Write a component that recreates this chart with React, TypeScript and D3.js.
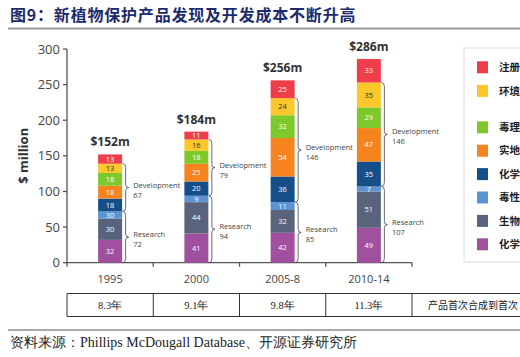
import React from "react";
import * as d3 from "d3";

const categories = ["1995", "2000", "2005-8", "2010-14"];
const seriesNames = ["化学", "生物", "毒性", "化学", "实地", "毒理", "环境", "注册"];
const seriesColors = ["#a0509e", "#59647c", "#5b93d3", "#154f8a", "#f5841f", "#7dc82b", "#fcc72a", "#ef3e4a"];
// values per category, bottom to top
const chemResearch = [32, 41, 42, 49];
const bioResearch = [30, 44, 32, 51];
const toxResearch = [10, 9, 11, 7];
const chemDev = [18, 20, 36, 35];
const fieldDev = [18, 25, 54, 47];
const toxDev = [18, 18, 32, 29];
const envDev = [13, 16, 24, 35];
const registration = [13, 11, 25, 33];
// printed labels (source prints "30" on the small 1995 toxicology segment)
const toxResearchLabels = ["30", "9", "11", "7"];
const totals = ["$152m", "$184m", "$256m", "$286m"];
const researchTotals = [72, 94, 85, 107];
const developmentTotals = [67, 79, 146, 146];
const years = ["8.3年", "9.1年", "9.8年", "11.3年"];
const yTicks = [0, 50, 100, 150, 200, 250, 300];
const legendNames = ["注册", "环境", "毒理", "实地", "化学", "毒性", "生物", "化学"];
const legendColors = ["#ef3e4a", "#fcc72a", "#7dc82b", "#f5841f", "#154f8a", "#5b93d3", "#59647c", "#a0509e"];

const series = [chemResearch, bioResearch, toxResearch, chemDev, fieldDev, toxDev, envDev, registration];

const FONT = "'Open Sans', 'DejaVu Sans', sans-serif";
const CJK = "'Noto Sans CJK SC', sans-serif";

export default function App() {
  const x = d3.scaleBand<string>().domain(categories).range([67, 412]).padding(0);
  const y = d3.scaleLinear().domain([0, 300]).range([262.7, 49]);
  const barW = 24;
  const step = x.step();

  const brace = (bx: number, v0: number, v1: number) => {
    const top = y(v1), bot = y(v0), mid = (top + bot) / 2;
    const xm = bx + 3;
    return `M${bx},${top} Q${xm},${top} ${xm},${top + 4} L${xm},${mid - 3} Q${xm},${mid} ${bx + 6},${mid} Q${xm},${mid} ${xm},${mid + 3} L${xm},${bot - 4} Q${xm},${bot} ${bx},${bot}`;
  };

  return (
    <svg width={520} height={357} style={{ position: "absolute", left: 0, top: 0 }}>
      <rect width={520} height={357} fill="#fff" />
      <text x={10} y={21} fontFamily={CJK} fontWeight="bold" fontSize={16} letterSpacing={0.8} fill="#1c2b6e">
        图9：新植物保护产品发现及开发成本不断升高
      </text>
      <line x1={8} x2={520} y1={28.5} y2={28.5} stroke="#999" strokeWidth={2} />

      {/* y axis */}
      <line x1={67} x2={67} y1={y(300)} y2={y(0)} stroke="#555" strokeWidth={1.3} />
      {yTicks.map((t) => (
        <g key={t}>
          <line x1={63} x2={67} y1={y(t)} y2={y(t)} stroke="#555" strokeWidth={1.3} />
          <text x={60} y={y(t)} dy="0.35em" textAnchor="end" fontFamily={FONT} fontSize={13} fill="#444">
            {t}
          </text>
        </g>
      ))}
      <text transform={`translate(28,${(y(0) + y(300)) / 2}) rotate(-90)`} textAnchor="middle" fontFamily={FONT} fontWeight="bold" fontSize={13} fill="#333">
        $ million
      </text>

      {/* x axis */}
      <line x1={67} x2={412} y1={y(0)} y2={y(0)} stroke="#555" strokeWidth={1.3} />
      {[...categories.map((c) => x(c)!), 412].map((tx, i) => (
        <line key={i} x1={tx} x2={tx} y1={y(0)} y2={y(0) + 4} stroke="#555" strokeWidth={1.3} />
      ))}
      {categories.map((c) => (
        <text key={c} x={x(c)! + step / 2} y={283} textAnchor="middle" fontFamily={FONT} fontSize={11} fill="#444">
          {c}
        </text>
      ))}

      {/* bars */}
      {categories.map((c, ci) => {
        const bx = x(c)! + (step - barW) / 2;
        let acc = 0;
        const segs = series.map((s, si) => {
          const v0 = acc;
          acc += s[ci];
          const label = si === 2 ? toxResearchLabels[ci] : String(s[ci]);
          return (
            <g key={si}>
              <rect x={bx} y={y(acc)} width={barW} height={y(v0) - y(acc)} fill={seriesColors[si]} />
              <text x={bx + barW / 2} y={(y(v0) + y(acc)) / 2} dy="0.35em" textAnchor="middle" fontFamily={FONT} fontSize={7.5} fill={si === 6 ? "#333" : "#fff"}>
                {label}
              </text>
            </g>
          );
        });
        const r = researchTotals[ci];
        const d = developmentTotals[ci];
        const rMid = (y(0) + y(r)) / 2;
        const dMid = (y(r) + y(r + d)) / 2;
        const tx = bx + barW + 11;
        return (
          <g key={c}>
            {segs}
            <text x={bx + barW / 2} y={y(acc) - 8} textAnchor="middle" fontFamily={FONT} fontWeight="bold" fontSize={12} fill="#333">
              {totals[ci]}
            </text>
            <path d={brace(bx + barW + 0.5, 0, r)} fill="none" stroke="#444" strokeWidth={0.8} />
            <path d={brace(bx + barW + 0.5, r, r + d)} fill="none" stroke="#444" strokeWidth={0.8} />
            <text x={tx} y={rMid} fontFamily={FONT} fontSize={7.5} fill="#444">Research</text>
            <text x={tx} y={rMid + 10} fontFamily={FONT} fontSize={7.5} fill="#444">{r}</text>
            <text x={tx} y={dMid} fontFamily={FONT} fontSize={7.5} fill="#444">Development</text>
            <text x={tx} y={dMid + 10} fontFamily={FONT} fontSize={7.5} fill="#444">{d}</text>
          </g>
        );
      })}

      {/* legend */}
      <rect x={464} y={48} width={70} height={214} fill="#fff" stroke="#ddd" strokeWidth={1} />
      {legendNames.map((n, i) => {
        const cy = i < 2 ? 67.3 + i * 23.6 : 127.3 + (i - 2) * 23.4;
        return (
          <g key={i}>
            <rect x={477} y={cy - 6} width={11} height={12} fill={legendColors[i]} />
            <text x={499} y={cy} dy="0.35em" fontFamily={CJK} fontWeight="bold" fontSize={10.5} fill="#222">
              {n}
            </text>
          </g>
        );
      })}

      {/* table */}
      <g stroke="#333" strokeWidth={1} fill="none">
        <line x1={67} x2={520} y1={293.5} y2={293.5} />
        <line x1={67} x2={520} y1={316.5} y2={316.5} />
        {[...categories.map((c) => x(c)!), 412].map((tx, i) => (
          <line key={i} x1={tx} x2={tx} y1={293.5} y2={316.5} />
        ))}
      </g>
      {categories.map((c, ci) => (
        <text key={c} x={x(c)! + step / 2} y={305} dy="0.35em" textAnchor="middle" fontFamily="'Liberation Serif', serif" fontSize={10.5} fill="#222">
          {years[ci]}
        </text>
      ))}
      <text x={428} y={305} dy="0.35em" fontFamily={CJK} fontSize={10} fill="#222">
        产品首次合成到首次
      </text>

      {/* source */}
      <line x1={8} x2={520} y1={330} y2={330} stroke="#555" strokeWidth={1} />
      <text x={10} y={346.5} fontFamily="'Liberation Serif', serif" fontSize={14} fill="#222">
        资料来源：Phillips McDougall Database、开源证券研究所
      </text>
    </svg>
  );
}
